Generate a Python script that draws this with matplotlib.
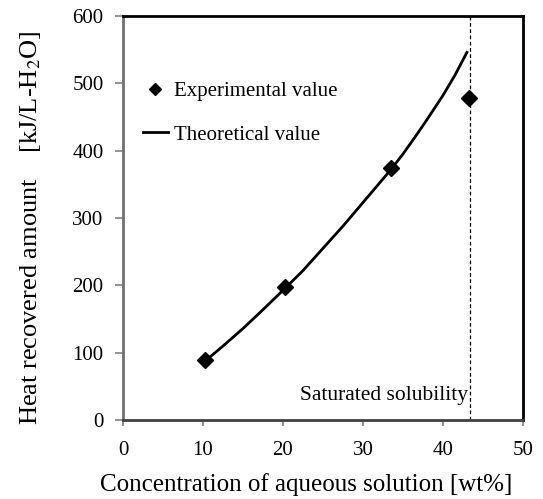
import matplotlib
matplotlib.use('Agg')
import matplotlib.pyplot as plt
import numpy as np

# experimental points
exp_x = [10.2, 20.2, 33.5, 43.2]
exp_y = [90, 197, 375, 478]

# theoretical curve
theo_x = [10.3, 12.5, 15, 17.5, 20.2, 22.5, 25, 27.5, 30, 33.5, 35, 36.5, 38, 40, 41.5, 43.0]
theo_y = [88, 110, 136, 164, 195, 222, 255, 288, 323, 372, 395, 420, 446, 482, 512, 546]

sat_x = 43.4

xticks = [0, 10, 20, 30, 40, 50]
yticks = [0, 100, 200, 300, 400, 500, 600]

plt.rcParams['font.family'] = ['Liberation Serif', 'DejaVu Serif']
plt.rcParams['mathtext.fontset'] = 'stix'

fig = plt.figure(figsize=(5.43, 4.99), dpi=100)
ax = fig.add_axes([0.2265, 0.158, 0.7365, 0.81])

ax.plot(exp_x, exp_y, linestyle='none', marker='D', markersize=8, color='black', label='Experimental value')
ax.plot(theo_x, theo_y, linestyle='-', color='black', linewidth=2, label='Theoretical value')
ax.axvline(sat_x, color='black', linestyle='--', linewidth=0.9, dashes=(3, 2))
ax.text(sat_x - 0.3, 37, 'Saturated solubility', ha='right', va='center', fontsize=15.5)

ax.set_xlim(0, 50)
ax.set_ylim(0, 600)
ax.set_xticks(xticks)
ax.set_yticks(yticks)
ax.tick_params(axis='x', direction='out', length=4, width=1.2, color='gray', labelsize=15, pad=11)
ax.tick_params(axis='y', direction='out', length=6, width=1.2, color='gray', labelsize=15, pad=8)

ax.spines['top'].set_linewidth(2)
ax.spines['right'].set_linewidth(2)
ax.spines['top'].set_color('black')
ax.spines['right'].set_color('black')
ax.spines['left'].set_linewidth(2)
ax.spines['left'].set_color('#707070')
ax.spines['bottom'].set_linewidth(2)
ax.spines['bottom'].set_color('#404040')

ax.set_xlabel('Concentration of aqueous solution [wt%]', fontsize=18, va='top')
ax.xaxis.set_label_coords(0.4575, -0.132)
ax.set_ylabel('Heat recovered amount    [kJ/L-H$_2$O]', fontsize=19)
ax.yaxis.set_label_coords(-0.2, 0.475)

ax.legend(loc='upper left', bbox_to_anchor=(0.05, 0.838), frameon=False, fontsize=15,
	borderpad=0, borderaxespad=0, handlelength=1.2, handletextpad=0.3, labelspacing=1.15,
	numpoints=1, markerscale=0.75)

fig.savefig('out.png', dpi=100)
